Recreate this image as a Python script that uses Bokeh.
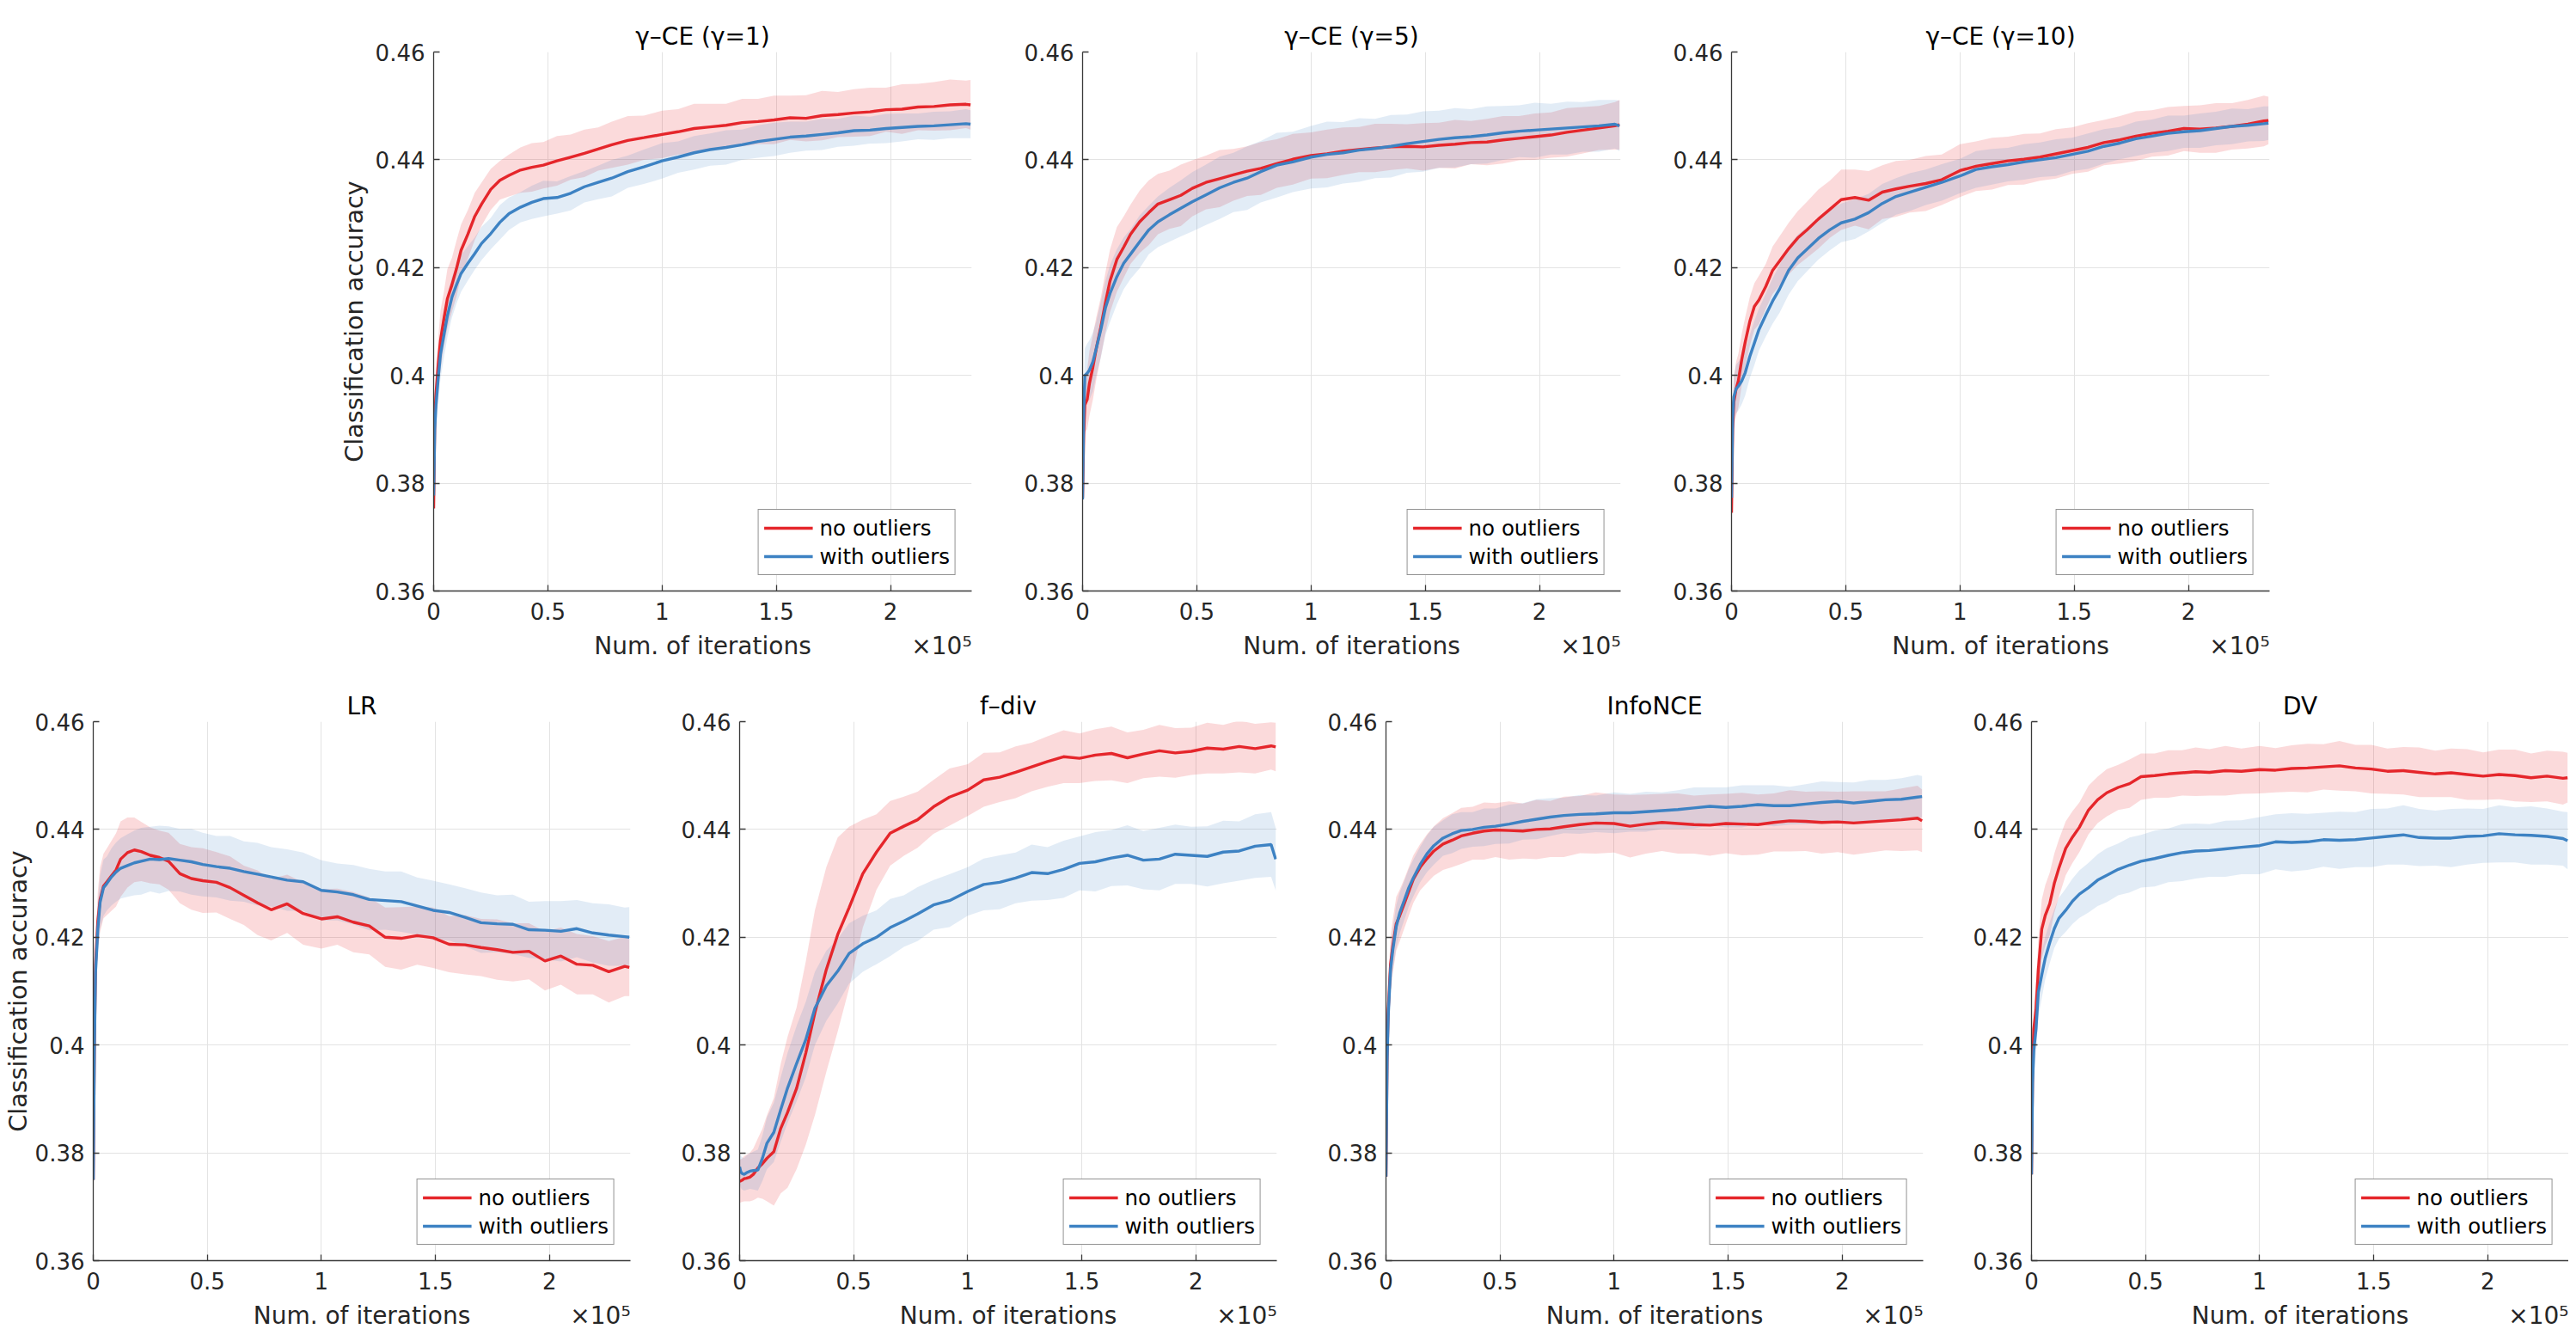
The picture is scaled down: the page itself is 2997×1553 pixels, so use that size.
from bokeh.plotting import figure
from bokeh.models import (Range1d, FixedTicker, CustomJSTickFormatter, Spacer,
                          ColumnDataSource, LinearAxis)
from bokeh.layouts import row, column
from bokeh.embed import file_html
from bokeh.resources import INLINE

# iterations, in units of 10^5
ITER = [0, 0.005, 0.01, 0.02, 0.03, 0.045, 0.06, 0.08, 0.10, 0.12,
        0.15, 0.18, 0.21, 0.25, 0.29, 0.33, 0.38, 0.43, 0.48, 0.54,
        0.60, 0.66, 0.72, 0.78, 0.85, 0.92, 1.00, 1.07, 1.14, 1.21,
        1.28, 1.35, 1.42, 1.49, 1.56, 1.63, 1.70, 1.77, 1.84, 1.91,
        1.98, 2.05, 2.12, 2.19, 2.26, 2.33, 2.35]

X_TICKS = [0, 0.5, 1, 1.5, 2]
Y_TICKS = [0.36, 0.38, 0.40, 0.42, 0.44, 0.46]
X_MAX = 2.355

TITLES = ["γ–CE (γ=1)", "γ–CE (γ=5)", "γ–CE (γ=10)", "LR", "f–div", "InfoNCE", "DV"]
SERIES = ["no outliers", "with outliers"]
X_LABEL = "Num. of iterations"
X_SCALE = "×10⁵"
Y_LABEL = "Classification accuracy"

# mean classification accuracy
R1 = [0.3753, 0.3920, 0.3965, 0.4020, 0.4065, 0.4105, 0.4142, 0.4168, 0.4198, 0.4232,
      0.4262, 0.4295, 0.4318, 0.4345, 0.4362, 0.4371, 0.4381, 0.4386, 0.4390, 0.4398,
      0.4405, 0.4412, 0.4420, 0.4428, 0.4436, 0.4441, 0.4447, 0.4452, 0.4458, 0.4461,
      0.4464, 0.4469, 0.4471, 0.4474, 0.4478, 0.4477, 0.4482, 0.4484, 0.4487, 0.4489,
      0.4493, 0.4494, 0.4498, 0.4499, 0.4502, 0.4503, 0.4502]
B1 = [0.3777, 0.3900, 0.3943, 0.3995, 0.4039, 0.4075, 0.4110, 0.4145, 0.4168, 0.4189,
      0.4208, 0.4226, 0.4245, 0.4263, 0.4284, 0.4300, 0.4312, 0.4321, 0.4328, 0.4330,
      0.4338, 0.4350, 0.4358, 0.4366, 0.4378, 0.4387, 0.4398, 0.4405, 0.4413, 0.4419,
      0.4423, 0.4428, 0.4434, 0.4438, 0.4442, 0.4444, 0.4447, 0.4450, 0.4454, 0.4455,
      0.4458, 0.4460, 0.4462, 0.4463, 0.4465, 0.4467, 0.4466]
R5 = [0.3773, 0.3890, 0.3945, 0.3955, 0.3985, 0.4015, 0.4050, 0.4090, 0.4135, 0.4175,
      0.4215, 0.4238, 0.4262, 0.4285, 0.4302, 0.4318, 0.4326, 0.4334, 0.4347, 0.4358,
      0.4365, 0.4372, 0.4379, 0.4384, 0.4393, 0.4401, 0.4408, 0.4411, 0.4416, 0.4419,
      0.4422, 0.4424, 0.4425, 0.4424, 0.4427, 0.4429, 0.4432, 0.4433, 0.4437, 0.4440,
      0.4443, 0.4446, 0.4451, 0.4455, 0.4459, 0.4463, 0.4465]
B5 = [0.3770, 0.3930, 0.4000, 0.4004, 0.4010, 0.4025, 0.4050, 0.4085, 0.4125, 0.4152,
      0.4183, 0.4208, 0.4225, 0.4248, 0.4270, 0.4285, 0.4298, 0.4310, 0.4322, 0.4335,
      0.4348, 0.4358, 0.4366, 0.4378, 0.4390, 0.4396, 0.4405, 0.4410, 0.4413, 0.4418,
      0.4421, 0.4425, 0.4430, 0.4434, 0.4438, 0.4441, 0.4443, 0.4446, 0.4450, 0.4453,
      0.4455, 0.4457, 0.4459, 0.4461, 0.4463, 0.4466, 0.4463]
R10 = [0.3745, 0.3900, 0.3950, 0.3975, 0.3990, 0.4030, 0.4062, 0.4100, 0.4128, 0.4140,
       0.4165, 0.4195, 0.4212, 0.4235, 0.4255, 0.4270, 0.4290, 0.4308, 0.4326, 0.4330,
       0.4325, 0.4340, 0.4346, 0.4351, 0.4356, 0.4363, 0.4380, 0.4388, 0.4393, 0.4398,
       0.4401, 0.4405, 0.4411, 0.4417, 0.4423, 0.4432, 0.4437, 0.4444, 0.4449, 0.4453,
       0.4458, 0.4457, 0.4459, 0.4462, 0.4466, 0.4472, 0.4473]
B10 = [0.3773, 0.3920, 0.3960, 0.3975, 0.3980, 0.3990, 0.4005, 0.4035, 0.4060, 0.4085,
       0.4112, 0.4138, 0.4160, 0.4195, 0.4218, 0.4234, 0.4254, 0.4270, 0.4283, 0.4290,
       0.4302, 0.4319, 0.4332, 0.4340, 0.4349, 0.4358, 0.4370, 0.4382, 0.4387, 0.4391,
       0.4396, 0.4400, 0.4404, 0.4410, 0.4416, 0.4425, 0.4431, 0.4439, 0.4444, 0.4449,
       0.4452, 0.4454, 0.4458, 0.4462, 0.4464, 0.4467, 0.4468]
RL = [0.3750, 0.4000, 0.4150, 0.4230, 0.4270, 0.4295, 0.4303, 0.4314, 0.4325, 0.4345,
      0.4357, 0.4362, 0.4359, 0.4352, 0.4348, 0.4341, 0.4318, 0.4309, 0.4305, 0.4302,
      0.4292, 0.4278, 0.4264, 0.4251, 0.4262, 0.4244, 0.4234, 0.4238, 0.4228, 0.4221,
      0.4200, 0.4198, 0.4203, 0.4199, 0.4187, 0.4186, 0.4181, 0.4177, 0.4172, 0.4174,
      0.4156, 0.4165, 0.4150, 0.4148, 0.4136, 0.4146, 0.4144]
BL = [0.3750, 0.3990, 0.4135, 0.4215, 0.4265, 0.4292, 0.4300, 0.4312, 0.4321, 0.4328,
      0.4333, 0.4338, 0.4341, 0.4345, 0.4344, 0.4346, 0.4343, 0.4340, 0.4335, 0.4331,
      0.4328, 0.4322, 0.4317, 0.4312, 0.4306, 0.4303, 0.4287, 0.4284, 0.4279, 0.4270,
      0.4268, 0.4266, 0.4258, 0.4250, 0.4246, 0.4237, 0.4227, 0.4225, 0.4224, 0.4214,
      0.4213, 0.4211, 0.4216, 0.4208, 0.4204, 0.4201, 0.4200]
RF = [0.3747, 0.3748, 0.3749, 0.3752, 0.3753, 0.3755, 0.3760, 0.3772, 0.3780, 0.3790,
      0.3802, 0.3845, 0.3875, 0.3920, 0.3985, 0.4060, 0.4140, 0.4205, 0.4255, 0.4318,
      0.4358, 0.4393, 0.4406, 0.4418, 0.4442, 0.4460, 0.4473, 0.4492, 0.4497, 0.4506,
      0.4516, 0.4526, 0.4535, 0.4532, 0.4538, 0.4541, 0.4533, 0.4540, 0.4546, 0.4542,
      0.4545, 0.4551, 0.4549, 0.4554, 0.4550, 0.4555, 0.4553]
BF = [0.3774, 0.3765, 0.3762, 0.3760, 0.3763, 0.3766, 0.3767, 0.3768, 0.3790, 0.3818,
      0.3838, 0.3880, 0.3920, 0.3966, 0.4010, 0.4068, 0.4110, 0.4137, 0.4170, 0.4188,
      0.4200, 0.4218, 0.4230, 0.4243, 0.4260, 0.4268, 0.4285, 0.4298, 0.4302, 0.4310,
      0.4320, 0.4318, 0.4326, 0.4337, 0.4340, 0.4347, 0.4352, 0.4343, 0.4345, 0.4354,
      0.4352, 0.4350, 0.4358, 0.4360, 0.4369, 0.4372, 0.4345]
RI = [0.3756, 0.3980, 0.4066, 0.4150, 0.4184, 0.4225, 0.4240, 0.4262, 0.4285, 0.4308,
      0.4330, 0.4346, 0.4360, 0.4373, 0.4380, 0.4388, 0.4393, 0.4397, 0.4399, 0.4398,
      0.4397, 0.4400, 0.4401, 0.4405, 0.4409, 0.4412, 0.4411, 0.4406, 0.4410, 0.4413,
      0.4411, 0.4409, 0.4408, 0.4411, 0.4410, 0.4409, 0.4413, 0.4416, 0.4415, 0.4413,
      0.4414, 0.4412, 0.4414, 0.4416, 0.4418, 0.4421, 0.4416]
BI = [0.3756, 0.3970, 0.4055, 0.4140, 0.4177, 0.4220, 0.4245, 0.4268, 0.4292, 0.4310,
      0.4335, 0.4355, 0.4370, 0.4384, 0.4392, 0.4398, 0.4400, 0.4404, 0.4406, 0.4410,
      0.4415, 0.4419, 0.4423, 0.4426, 0.4428, 0.4429, 0.4431, 0.4431, 0.4433, 0.4435,
      0.4437, 0.4440, 0.4443, 0.4441, 0.4443, 0.4446, 0.4444, 0.4444, 0.4447, 0.4450,
      0.4452, 0.4449, 0.4452, 0.4455, 0.4456, 0.4460, 0.4461]
RD = [0.3760, 0.3960, 0.4030, 0.4066, 0.4140, 0.4215, 0.4240, 0.4262, 0.4300, 0.4328,
      0.4365, 0.4386, 0.4404, 0.4436, 0.4455, 0.4468, 0.4478, 0.4485, 0.4498, 0.4500,
      0.4503, 0.4505, 0.4507, 0.4506, 0.4509, 0.4508, 0.4511, 0.4510, 0.4513, 0.4514,
      0.4516, 0.4518, 0.4514, 0.4512, 0.4508, 0.4509, 0.4506, 0.4503, 0.4505, 0.4502,
      0.4499, 0.4502, 0.4500, 0.4496, 0.4499, 0.4495, 0.4496]
BD = [0.3760, 0.3930, 0.3990, 0.4030, 0.4098, 0.4130, 0.4161, 0.4190, 0.4216, 0.4235,
      0.4250, 0.4267, 0.4280, 0.4292, 0.4306, 0.4315, 0.4326, 0.4334, 0.4341, 0.4346,
      0.4352, 0.4357, 0.4360, 0.4361, 0.4364, 0.4367, 0.4370, 0.4377, 0.4376, 0.4377,
      0.4381, 0.4380, 0.4381, 0.4384, 0.4387, 0.4390, 0.4385, 0.4384, 0.4384, 0.4387,
      0.4388, 0.4392, 0.4390, 0.4389, 0.4387, 0.4383, 0.4379]

# half-width of the shaded band, in units of 10^-3
W_R1 = [0.5, 3.5, 4.5, 5.0, 5.5, 5.0, 5.5, 5.0, 5.2, 4.8, 4.5, 4.4, 4.0, 3.8, 3.6, 3.9,
        4.2, 4.5, 4.3, 4.6, 4.2, 4.4, 4.0, 4.3, 4.5, 4.1, 4.4, 4.2, 4.6, 4.3, 4.0, 4.4,
        4.2, 4.5, 4.1, 4.3, 4.6, 4.2, 4.4, 4.5, 4.1, 4.6, 4.3, 4.5, 4.7, 4.4, 4.6]
W_B1 = [0.5, 3.0, 4.0, 4.5, 4.5, 4.2, 4.0, 3.8, 3.5, 3.4, 3.2, 3.0, 3.1, 2.9, 3.2, 3.0,
        2.8, 3.1, 3.3, 3.0, 3.2, 2.9, 3.1, 3.4, 3.0, 3.2, 3.3, 2.9, 3.1, 3.0, 3.2, 2.8,
        3.0, 3.1, 2.9, 2.7, 2.9, 2.6, 2.8, 2.5, 2.7, 2.6, 2.4, 2.6, 2.5, 2.7, 2.6]
W_R5 = [0.5, 4.0, 5.0, 5.5, 6.0, 6.0, 5.8, 5.5, 5.6, 5.8, 6.0, 5.7, 5.5, 5.8, 6.0, 5.6,
        5.4, 5.7, 5.2, 5.0, 5.3, 4.8, 4.6, 4.9, 4.5, 4.7, 4.3, 4.5, 4.4, 4.2, 4.5, 4.3,
        4.1, 4.4, 4.2, 4.5, 4.0, 4.3, 4.4, 4.1, 4.3, 4.2, 4.5, 4.3, 4.1, 4.4, 4.6]
W_B5 = [0.5, 4.0, 5.0, 5.5, 5.5, 5.5, 5.0, 5.2, 5.0, 5.3, 5.1, 4.8, 4.6, 4.9, 4.5, 4.7,
        5.0, 5.2, 5.5, 5.6, 5.8, 5.5, 5.9, 5.7, 6.0, 5.6, 5.8, 6.1, 5.7, 5.9, 5.5, 5.8,
        5.4, 5.6, 5.3, 5.5, 5.1, 5.3, 5.0, 4.8, 5.1, 4.7, 4.9, 4.6, 4.8, 4.5, 4.7]
W_R10 = [0.5, 3.5, 4.5, 5.0, 5.0, 4.8, 4.6, 4.5, 4.3, 4.5, 4.2, 4.4, 4.6, 4.8, 5.0, 5.2,
         5.5, 5.3, 5.6, 5.2, 5.4, 5.0, 5.2, 4.9, 5.1, 4.7, 4.9, 4.6, 4.8, 4.5, 4.7, 4.4,
         4.6, 4.3, 4.5, 4.2, 4.4, 4.6, 4.3, 4.5, 4.2, 4.4, 4.6, 4.3, 4.5, 4.7, 4.4]
W_B10 = [0.5, 3.5, 4.0, 4.5, 4.5, 4.3, 4.2, 4.0, 4.1, 3.9, 4.0, 4.2, 4.4, 4.5, 4.3, 4.1,
         3.9, 3.8, 3.6, 3.7, 3.5, 3.6, 3.4, 3.5, 3.3, 3.4, 3.2, 3.4, 3.3, 3.1, 3.3, 3.2,
         3.4, 3.1, 3.3, 3.2, 3.0, 3.2, 3.1, 3.3, 3.0, 3.2, 3.1, 3.3, 3.0, 3.2, 3.1]
W_RL = [0.5, 4.0, 5.0, 5.5, 6.0, 6.0, 6.2, 6.5, 6.8, 7.0, 6.5, 6.0, 5.5, 5.2, 5.0, 5.3,
        5.5, 5.8, 6.0, 5.6, 5.8, 5.5, 6.0, 5.7, 5.4, 5.8, 5.5, 5.2, 5.6, 5.3, 5.5, 5.8,
        5.4, 5.6, 5.2, 5.5, 5.3, 5.6, 5.4, 5.2, 5.5, 5.3, 5.6, 5.4, 5.7, 5.5, 5.3]
W_BL = [0.5, 4.0, 5.0, 5.0, 5.0, 5.2, 5.0, 5.3, 5.5, 5.6, 5.8, 6.0, 6.2, 6.0, 6.3, 6.0,
        5.8, 6.1, 5.9, 5.7, 6.0, 5.6, 5.8, 5.5, 5.7, 5.4, 5.6, 5.3, 5.5, 5.7, 5.4, 5.6,
        5.3, 5.5, 5.2, 5.4, 5.6, 5.3, 5.5, 5.2, 5.4, 5.6, 5.3, 5.5, 5.7, 5.4, 5.6]
W_RF = [4.0, 4.0, 4.0, 4.2, 4.3, 4.5, 4.8, 5.5, 6.5, 8.0, 10.0, 12.0, 14.0, 15.0, 17.0,
        19.0, 19.0, 18.0, 15.0, 10.0, 7.0, 6.0, 5.5, 5.2, 5.0, 5.3, 4.8, 5.0, 4.6, 4.8,
        4.5, 4.7, 4.9, 4.6, 4.8, 5.0, 4.7, 4.5, 4.8, 4.6, 4.4, 4.7, 4.5, 4.8, 4.6, 4.4, 4.5]
W_BF = [3.0, 3.0, 3.0, 3.0, 3.2, 3.3, 3.5, 3.8, 4.2, 4.8, 5.5, 6.0, 6.5, 7.0, 7.0, 6.8,
        6.5, 6.0, 5.6, 5.2, 5.0, 5.3, 4.8, 5.0, 4.6, 4.9, 4.5, 4.8, 5.0, 4.7, 5.2, 4.9,
        5.3, 5.0, 5.5, 5.2, 5.6, 5.4, 5.8, 5.5, 5.3, 5.6, 5.8, 5.5, 5.9, 6.0, 5.8]
W_RI = [0.5, 3.5, 4.5, 5.0, 5.0, 5.0, 4.8, 4.6, 4.5, 4.4, 4.3, 4.5, 4.6, 4.8, 5.0, 5.2,
        4.9, 5.3, 5.0, 5.4, 5.1, 5.5, 5.2, 5.6, 5.3, 5.7, 5.4, 5.8, 5.5, 5.3, 5.6, 5.4,
        5.7, 5.5, 5.8, 5.6, 5.4, 5.7, 5.5, 5.8, 5.6, 5.9, 5.7, 5.5, 5.8, 6.0, 5.8]
W_BI = [0.5, 3.0, 3.5, 4.0, 4.0, 4.0, 3.8, 3.6, 3.5, 3.4, 3.3, 3.4, 3.5, 3.3, 3.6, 3.4,
        3.2, 3.5, 3.3, 3.6, 3.4, 3.7, 3.5, 3.3, 3.6, 3.4, 3.8, 3.5, 3.7, 3.4, 3.6, 3.8,
        3.5, 3.7, 3.9, 3.6, 3.8, 3.5, 3.7, 3.9, 3.6, 3.8, 4.0, 3.7, 3.9, 4.1, 3.8]
W_RD = [0.5, 4.0, 5.0, 5.5, 5.5, 5.5, 5.6, 5.8, 5.5, 5.3, 5.0, 4.8, 4.6, 4.5, 4.3, 4.4,
        4.2, 4.5, 4.3, 4.1, 4.4, 4.2, 4.5, 4.3, 4.6, 4.2, 4.4, 4.1, 4.3, 4.5, 4.2, 4.6,
        4.3, 4.5, 4.2, 4.4, 4.6, 4.3, 4.5, 4.7, 4.4, 4.6, 4.8, 4.5, 4.7, 4.9, 4.6]
W_BD = [0.5, 4.0, 4.5, 4.5, 4.5, 4.3, 4.0, 3.8, 3.6, 3.8, 4.0, 4.2, 4.4, 4.6, 4.8, 5.0,
        4.8, 5.1, 4.9, 5.2, 5.0, 5.3, 5.1, 4.9, 5.2, 5.0, 5.3, 5.1, 5.4, 5.2, 5.0, 5.3,
        5.1, 5.4, 5.2, 5.5, 5.3, 5.1, 5.4, 5.2, 5.0, 5.3, 5.1, 5.4, 5.2, 5.0, 5.3]

PANELS = [(R1, W_R1, B1, W_B1), (R5, W_R5, B5, W_B5), (R10, W_R10, B10, W_B10),
          (RL, W_RL, BL, W_BL), (RF, W_RF, BF, W_BF), (RI, W_RI, BI, W_BI),
          (RD, W_RD, BD, W_BD)]
for k, arrs in enumerate(PANELS):
    for a in arrs:
        if len(a) != len(ITER):
            raise ValueError(f"panel {k}: length {len(a)} != {len(ITER)}")

RED = "#e5262b"
BLUE = "#3d82c3"
FONT = "DejaVu Sans"
AXC = "#3a3a3a"
TXT = "#262626"
GRID = "#e3e3e3"


def make_panel(idx, bl, br, bt, bb, fw, ylabel, ylab_standoff=0):
    r, wr, b, wb = PANELS[idx]
    src = ColumnDataSource(dict(
        x=ITER, r=r, b=b,
        r_lo=[v - w / 1000 for v, w in zip(r, wr)],
        r_hi=[v + w / 1000 for v, w in zip(r, wr)],
        b_lo=[v - w / 1000 for v, w in zip(b, wb)],
        b_hi=[v + w / 1000 for v, w in zip(b, wb)],
    ))
    p = figure(frame_width=fw, frame_height=627,
               x_range=Range1d(0, X_MAX), y_range=Range1d(0.36, 0.46),
               output_backend="svg", toolbar_location=None,
               min_border_left=bl, min_border_right=br,
               min_border_top=bt, min_border_bottom=bb)
    p.outline_line_color = None
    p.background_fill_color = "white"
    p.border_fill_color = "white"

    p.title.text = TITLES[idx]
    p.title.align = "center"
    p.title.text_font = FONT
    p.title.text_font_size = "28px"
    p.title.text_font_style = "normal"
    p.title.text_color = "#000000"
    p.title.standoff = 4

    p.varea(x="x", y1="r_lo", y2="r_hi", source=src, fill_color=RED, fill_alpha=0.17)
    p.varea(x="x", y1="b_lo", y2="b_hi", source=src, fill_color=BLUE, fill_alpha=0.15)
    p.line("x", "r", source=src, line_color=RED, line_width=3.4, legend_label=SERIES[0])
    p.line("x", "b", source=src, line_color=BLUE, line_width=3.4, legend_label=SERIES[1])

    p.xaxis.ticker = FixedTicker(ticks=X_TICKS)
    p.yaxis.ticker = FixedTicker(ticks=Y_TICKS)
    p.xgrid.ticker = FixedTicker(ticks=X_TICKS)
    p.ygrid.ticker = FixedTicker(ticks=Y_TICKS)
    p.xaxis.formatter = CustomJSTickFormatter(code="return (Math.round(tick*10)/10).toString();")
    p.yaxis.formatter = CustomJSTickFormatter(code="return (Math.round(tick*100)/100).toString();")
    p.grid.grid_line_color = GRID
    p.grid.grid_line_width = 1
    for ax in (p.xaxis[0], p.yaxis[0]):
        ax.axis_line_color = AXC
        ax.axis_line_width = 1.3
        ax.major_tick_line_color = AXC
        ax.major_tick_line_width = 1.3
        ax.major_tick_in = 7
        ax.major_tick_out = 0
        ax.minor_tick_line_color = None
        ax.major_label_text_font = FONT
        ax.major_label_text_font_size = "26px"
        ax.major_label_text_color = TXT
        ax.axis_label_text_font = FONT
        ax.axis_label_text_font_size = "28.6px"
        ax.axis_label_text_font_style = "normal"
        ax.axis_label_text_color = TXT
    p.xaxis.major_label_standoff = 13
    p.yaxis.major_label_standoff = 10
    if ylabel:
        p.yaxis.axis_label = Y_LABEL
        p.yaxis.axis_label_standoff = ylab_standoff

    # second, line-less axis below carrying the axis title and the x10^5 multiplier
    lab_ax = LinearAxis(
        ticker=FixedTicker(ticks=[X_MAX / 2, X_MAX * (1 - 35 / fw)]),
        formatter=CustomJSTickFormatter(
            code=f"return tick < 2 ? {X_LABEL!r} : {X_SCALE!r};"),
        axis_line_color=None, major_tick_line_color=None, minor_tick_line_color=None,
        major_label_standoff=5, major_label_text_font=FONT,
        major_label_text_font_size="28px", major_label_text_color=TXT)
    p.add_layout(lab_ax, "below")

    lg = p.legend[0]
    lg.location = "bottom_right"
    lg.margin = 18
    lg.padding = 6
    lg.spacing = 3
    lg.glyph_width = 57
    lg.glyph_height = 30
    lg.label_height = 30
    lg.label_standoff = 8
    lg.label_text_font = FONT
    lg.label_text_font_size = "24.5px"
    lg.label_text_color = "#000000"
    lg.border_line_color = "#262626"
    lg.border_line_width = 1.5
    lg.background_fill_color = "white"
    lg.background_fill_alpha = 1.0
    return p


top = [make_panel(0, 106, 28, 52, 90, 626, True, ylab_standoff=5),
       make_panel(1, 101, 28, 52, 90, 626, False),
       make_panel(2, 101, 28, 52, 90, 626, False)]
bottom = [make_panel(3, 101, 26, 62, 84, 625, True),
          make_panel(4, 101, 26, 62, 84, 625, False),
          make_panel(5, 101, 26, 62, 84, 625, False),
          make_panel(6, 100, 0, 62, 84, 625, False)]

layout = column(Spacer(width=10, height=8),
                row(Spacer(width=391, height=769), *top),
                row(*bottom))

open("out.html", "w").write(file_html(layout, INLINE))
